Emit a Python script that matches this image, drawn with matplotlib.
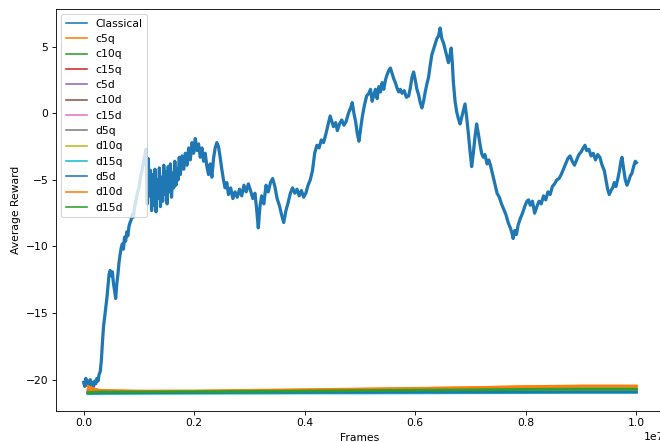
import numpy as np
import matplotlib
matplotlib.use('Agg')
import matplotlib.pyplot as plt

# Classical run: frames (in units of 1e7) and average reward
classical_x = [
    0.000, 0.002, 0.004, 0.006, 0.008, 0.010, 0.012, 0.014, 0.016, 0.018,
    0.020, 0.022, 0.024, 0.026, 0.028, 0.030, 0.032, 0.034, 0.036, 0.038,
    0.040, 0.042, 0.044, 0.046, 0.048, 0.050, 0.052, 0.054, 0.056, 0.058,
    0.060, 0.062, 0.064, 0.066, 0.068, 0.070, 0.072, 0.074, 0.076, 0.078,
    0.080, 0.082, 0.084, 0.086, 0.088, 0.090, 0.092, 0.094, 0.096, 0.098,
    0.100, 0.102, 0.104, 0.106, 0.108, 0.110, 0.112, 0.113,
    0.115, 0.117, 0.119, 0.121, 0.123, 0.125, 0.127, 0.129, 0.131, 0.133,
    0.135, 0.137, 0.139, 0.141, 0.143, 0.145, 0.147, 0.149, 0.151, 0.153,
    0.155, 0.157, 0.159, 0.161, 0.163, 0.165, 0.167, 0.169, 0.171, 0.173,
    0.175, 0.178, 0.181, 0.184, 0.187, 0.190, 0.193, 0.196, 0.199, 0.202,
    0.205, 0.208, 0.211, 0.214, 0.217, 0.220, 0.223, 0.226, 0.229, 0.232,
    0.235, 0.238, 0.241, 0.244, 0.247, 0.250, 0.253, 0.256, 0.259, 0.262,
    0.266, 0.270, 0.274, 0.278, 0.282, 0.286, 0.290, 0.294, 0.298, 0.302,
    0.306, 0.310, 0.313, 0.316, 0.319, 0.322, 0.326, 0.330, 0.334, 0.338,
    0.342, 0.346, 0.350, 0.354, 0.358, 0.362, 0.366, 0.370, 0.374, 0.378,
    0.382, 0.386, 0.390, 0.394, 0.398, 0.402, 0.406, 0.410, 0.414, 0.418,
    0.422, 0.426, 0.430, 0.434, 0.438, 0.442, 0.446, 0.449, 0.452, 0.456,
    0.459, 0.463, 0.467, 0.471, 0.475, 0.479, 0.483, 0.486, 0.489, 0.492,
    0.495, 0.498, 0.501, 0.504, 0.508, 0.512, 0.516, 0.519, 0.522, 0.525,
    0.528, 0.531, 0.534, 0.537, 0.540, 0.543, 0.546, 0.549, 0.552, 0.555,
    0.558, 0.561, 0.564, 0.567, 0.570, 0.573, 0.576, 0.580, 0.584, 0.588,
    0.591, 0.594, 0.597, 0.600, 0.603, 0.606, 0.609, 0.612, 0.615, 0.618,
    0.621, 0.624, 0.627, 0.630, 0.633, 0.636, 0.639, 0.642, 0.645, 0.648,
    0.651, 0.654, 0.657, 0.660, 0.663, 0.665, 0.667, 0.669, 0.672, 0.675,
    0.678, 0.681, 0.684, 0.687, 0.690, 0.693, 0.696, 0.699, 0.702, 0.705,
    0.708, 0.711, 0.714, 0.717, 0.720, 0.723, 0.726, 0.730, 0.733, 0.736,
    0.740, 0.744, 0.748, 0.752, 0.756, 0.760, 0.764, 0.768, 0.772, 0.775,
    0.777, 0.780, 0.783, 0.786, 0.790, 0.794, 0.798, 0.802, 0.805, 0.808,
    0.812, 0.816, 0.820, 0.824, 0.828, 0.832, 0.836, 0.840, 0.844, 0.848,
    0.852, 0.856, 0.860, 0.864, 0.868, 0.872, 0.876, 0.880, 0.884, 0.888,
    0.892, 0.896, 0.900, 0.904, 0.907, 0.910, 0.914, 0.918, 0.922, 0.926,
    0.930, 0.934, 0.938, 0.942, 0.945, 0.948, 0.951, 0.954, 0.957, 0.960,
    0.963, 0.966, 0.969, 0.972, 0.974, 0.977, 0.980, 0.983, 0.986, 0.989,
    0.992, 0.995, 0.998, 1.000,
]
classical_y = [
    -20.2, -20.5, -19.9, -20.4, -20.1, -20.5, -20.0, -20.4, -20.2, -20.5,
    -20.1, -20.3, -19.9, -20.1, -19.6, -19.4, -18.6, -17.2, -16.0, -15.3,
    -14.6, -13.9, -13.0, -12.1, -11.8, -12.2, -11.9, -12.8, -13.3, -13.9,
    -12.8, -12.1, -11.2, -10.6, -10.1, -9.8, -10.2, -9.3, -9.6, -8.9,
    -9.2, -8.5, -8.2, -8.0, -7.6, -7.8, -7.1, -6.7, -6.2, -5.9,
    -5.6, -5.0, -4.6, -4.2, -3.8, -3.3, -2.9, -2.7,
    -6.8, -3.4, -6.2, -4.3, -7.3, -4.6, -6.9, -4.2, -7.4, -5.0,
    -6.4, -4.1, -7.0, -4.8, -6.6, -3.9, -6.1, -4.4, -6.8, -4.0,
    -5.9, -3.8, -6.3, -4.5, -5.6, -3.6, -5.4, -4.2, -5.0, -3.3,
    -4.6, -3.2, -4.2, -3.0, -3.9, -2.6, -3.5, -2.2, -3.0, -1.9,
    -2.8, -2.3, -3.3, -2.6, -3.6, -3.0, -4.0, -4.6, -3.8, -4.8,
    -3.4, -2.6, -2.2, -2.5, -3.3, -4.2, -5.0, -5.6, -5.2, -6.1,
    -5.6, -6.4, -5.9, -6.3, -5.7, -6.2, -5.4, -5.9, -5.3, -5.8,
    -6.4, -6.0, -7.2, -8.6, -7.0, -6.2, -6.8, -5.4, -5.9, -5.2,
    -4.9, -5.5, -6.4, -6.9, -7.6, -8.2, -7.3, -6.7, -6.0, -5.6,
    -6.0, -5.7, -6.2, -5.8, -6.3, -6.0, -5.4, -5.0, -4.3, -3.0,
    -2.4, -2.6, -2.0, -2.2, -1.6, -0.9, -0.2, -0.6, -1.0, -0.7,
    -1.3, -0.8, -0.5, -0.9, -0.6, 0.0, 0.4, 0.8, 0.0, -0.6,
    -1.5, -2.1, -1.2, -0.3, 0.6, 1.3, 1.5, 1.8, 0.9, 1.4,
    1.8, 1.1, 2.0, 1.6, 2.3, 1.8, 2.5, 2.9, 3.2, 3.4,
    3.0, 2.6, 2.3, 1.9, 1.6, 1.8, 1.5, 1.7, 1.2, 1.3,
    1.9, 2.7, 3.1, 2.5, 1.8, 1.4, 0.8, 0.4, 0.9, 1.6,
    2.2, 2.7, 3.6, 4.4, 4.8, 5.2, 5.6, 5.8, 6.4, 5.6,
    5.3, 4.8, 4.3, 3.8, 4.4, 4.9, 3.8, 2.3, 0.9, 0.1,
    -0.4, -0.8, -0.3, 0.2, 0.7, -0.3, -1.5, -2.8, -4.0, -3.0,
    -1.8, -0.8, -1.5, -2.3, -3.0, -3.3, -3.1, -3.8, -3.5, -3.9,
    -4.6, -5.3, -6.0, -6.3, -6.8, -7.2, -7.6, -8.2, -8.6, -9.0,
    -9.4, -8.8, -9.1, -8.4, -7.9, -7.5, -7.0, -6.6, -6.5, -6.9,
    -6.6, -7.5, -7.0, -6.6, -6.8, -6.2, -6.5, -5.9, -6.1, -5.5,
    -5.3, -5.0, -4.9, -4.6, -4.2, -3.8, -3.4, -3.2, -3.6, -3.9,
    -3.5, -3.1, -2.9, -2.6, -2.4, -2.8, -2.7, -3.2, -3.0, -3.5,
    -3.1, -3.3, -3.9, -4.3, -5.0, -5.7, -6.1, -5.8, -5.6, -5.2,
    -5.5, -5.0, -4.4, -3.6, -3.3, -4.2, -5.0, -5.4, -5.1, -4.7,
    -4.5, -4.0, -3.6, -3.7,
]

# the other runs stay flat near -21
variant_x = [0.008, 0.015, 0.03, 0.1, 0.2, 0.3, 0.4, 0.5, 0.6, 0.7, 0.8, 0.9, 1.0]
variant_labels = ['c5q', 'c10q', 'c15q', 'c5d', 'c10d', 'c15d',
                  'd5q', 'd10q', 'd15q', 'd5d', 'd10d', 'd15d']
c5q = [-20.50, -20.65, -20.80, -20.85, -20.85, -20.80, -20.75, -20.70, -20.65, -20.60, -20.52, -20.47, -20.47]
c10q = [-21.00, -20.95, -20.92, -20.92, -20.90, -20.88, -20.86, -20.83, -20.80, -20.78, -20.75, -20.72, -20.72]
c15q = [-20.92, -20.92, -20.90, -20.90, -20.90, -20.88, -20.87, -20.86, -20.84, -20.82, -20.80, -20.78, -20.78]
c5d = [-20.95, -20.95, -20.93, -20.93, -20.92, -20.91, -20.90, -20.89, -20.88, -20.87, -20.86, -20.85, -20.85]
c10d = [-20.90, -20.88, -20.88, -20.90, -20.90, -20.88, -20.86, -20.84, -20.82, -20.80, -20.78, -20.77, -20.77]
c15d = [-20.97, -20.96, -20.95, -20.95, -20.95, -20.94, -20.93, -20.93, -20.92, -20.92, -20.91, -20.90, -20.90]
d5q = [-20.93, -20.93, -20.92, -20.92, -20.92, -20.91, -20.90, -20.90, -20.89, -20.88, -20.87, -20.86, -20.86]
d10q = [-20.95, -20.93, -20.90, -20.90, -20.89, -20.87, -20.85, -20.83, -20.81, -20.79, -20.77, -20.76, -20.76]
d15q = [-21.05, -21.05, -21.04, -21.03, -21.02, -21.01, -21.00, -21.00, -20.99, -20.98, -20.97, -20.96, -20.96]
d5d = [-21.00, -21.00, -20.98, -20.97, -20.96, -20.95, -20.95, -20.94, -20.93, -20.93, -20.92, -20.91, -20.91]
d10d = [-20.70, -20.78, -20.85, -20.88, -20.87, -20.82, -20.78, -20.72, -20.67, -20.60, -20.53, -20.50, -20.50]
d15d = [-20.98, -20.95, -20.92, -20.92, -20.90, -20.88, -20.85, -20.82, -20.79, -20.76, -20.73, -20.70, -20.70]
variant_values = [c5q, c10q, c15q, c5d, c10d, c15d, d5q, d10q, d15q, d5d, d10d, d15d]

# the reference looks like a default figure shrunk to ~77 dpi
DPI = 77
fig = plt.figure(figsize=(660 / DPI, 442 / DPI), dpi=DPI)
ax = fig.add_axes([56 / 660, 31 / 442, 608 / 660, 402 / 442])

ax.plot(np.array(classical_x) * 1e7, classical_y, label='Classical', linewidth=3.0)
for label, vals in zip(variant_labels, variant_values):
    ax.plot(np.array(variant_x) * 1e7, vals, label=label, linewidth=2.6)

ax.set_ylim(-22.35, 7.83)
ax.set_xlabel('Frames')
ax.set_ylabel('Average Reward')

leg = ax.legend(loc='upper left')
for line in leg.get_lines():
    line.set_linewidth(1.5)

fig.savefig('out.png', dpi=DPI)
